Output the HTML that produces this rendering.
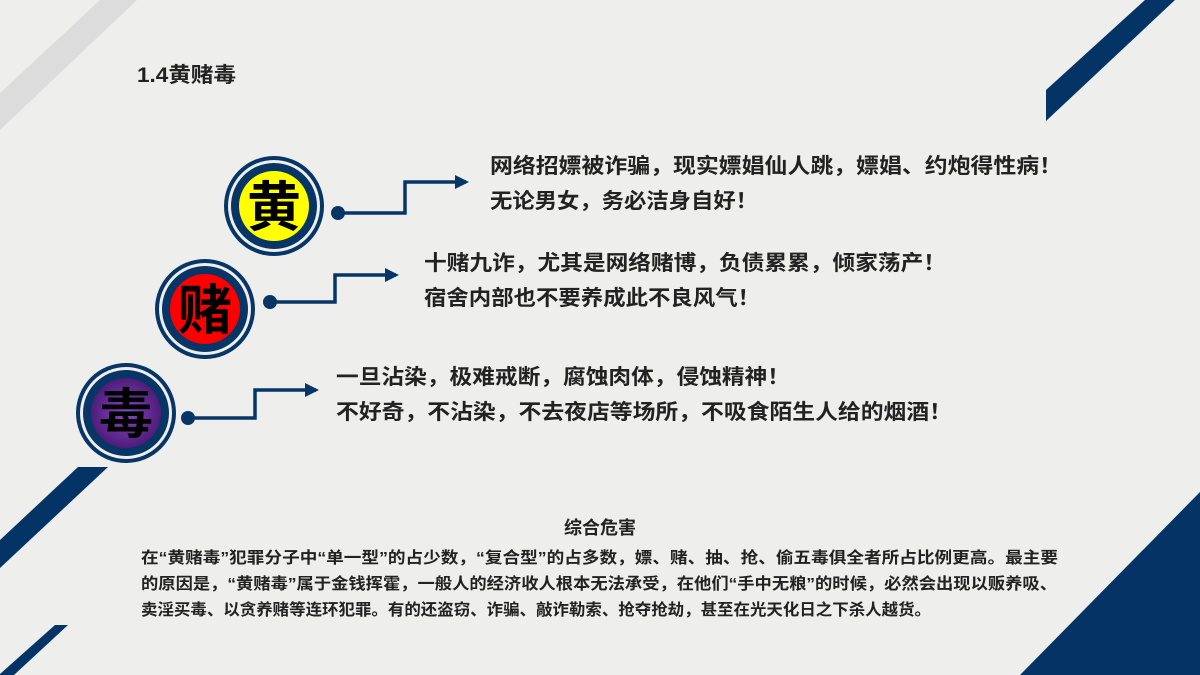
<!DOCTYPE html>
<html><head><meta charset="utf-8"><style>
html,body{margin:0;padding:0;background:#eeeeec;}
svg{display:block;}
text{font-family:"Liberation Sans","Noto Sans CJK SC",sans-serif;font-weight:bold;fill:#222;}
</style></head><body>
<svg width="1200" height="675" viewBox="0 0 1200 675" xmlns="http://www.w3.org/2000/svg">
<defs>
<radialGradient id="pg" cx="0.5" cy="0.5" r="0.5">
<stop offset="0" stop-color="#8e44c8"/><stop offset="1" stop-color="#4d1d78"/>
</radialGradient>
<marker id="ar" markerWidth="14" markerHeight="14" refX="11" refY="7" orient="auto" markerUnits="userSpaceOnUse">
<path d="M0,0 L14,7 L0,14 Z" fill="#063566"/>
</marker>
</defs>
<rect width="1200" height="675" fill="#eeeeec"/>
<polygon points="100,0 137,0 0,130 0,93" fill="#dcdcdc"/>
<polygon points="1145,0 1175,0 1046,121 1046,90" fill="#043466"/>
<polygon points="1200,492 1200,675 1020,675" fill="#043466"/>
<polygon points="78,467 108,467 0,568 0,540" fill="#043466"/>
<polygon points="55,625 68,625 14,675 0,675 0,674" fill="#043466"/>
<text x="137" y="82" font-size="21" textLength="99" lengthAdjust="spacingAndGlyphs">1.4黄赌毒</text>

<circle cx="274" cy="206" r="50" fill="#063566"/>
<circle cx="274" cy="206" r="46" fill="#eeeeec"/>
<circle cx="274" cy="206" r="43" fill="#063566"/>
<circle cx="274" cy="206" r="35" fill="#ffff00"/>
<text x="274" y="226" font-size="54" text-anchor="middle" style="fill:#000">黄</text>
<circle cx="338" cy="213" r="7" fill="#063566"/>
<polyline points="338,213 405,213 405,182 466,182" fill="none" stroke="#063566" stroke-width="3.5" marker-end="url(#ar)"/>

<circle cx="205" cy="309" r="50" fill="#063566"/>
<circle cx="205" cy="309" r="46" fill="#eeeeec"/>
<circle cx="205" cy="309" r="43" fill="#063566"/>
<circle cx="205" cy="309" r="35" fill="#ff0000"/>
<text x="205" y="329" font-size="54" text-anchor="middle" style="fill:#000">赌</text>
<circle cx="270" cy="302" r="7" fill="#063566"/>
<polyline points="270,302 335,302 335,275 396,275" fill="none" stroke="#063566" stroke-width="3.5" marker-end="url(#ar)"/>

<circle cx="126" cy="413" r="50" fill="#063566"/>
<circle cx="126" cy="413" r="46" fill="#eeeeec"/>
<circle cx="126" cy="413" r="43" fill="#063566"/>
<circle cx="126" cy="413" r="35" fill="url(#pg)"/>
<text x="126" y="433" font-size="54" text-anchor="middle" style="fill:#000">毒</text>
<circle cx="188" cy="418" r="7" fill="#063566"/>
<polyline points="188,418 255,418 255,390 316,390" fill="none" stroke="#063566" stroke-width="3.5" marker-end="url(#ar)"/>

<text x="490" y="173" font-size="21" textLength="572" lengthAdjust="spacingAndGlyphs">网络招嫖被诈骗，现实嫖娼仙人跳，嫖娼、约炮得性病！</text>
<text x="490" y="208" font-size="21" textLength="268" lengthAdjust="spacingAndGlyphs">无论男女，务必洁身自好！</text>
<text x="424" y="270" font-size="21" textLength="522" lengthAdjust="spacingAndGlyphs">十赌九诈，尤其是网络赌博，负债累累，倾家荡产！</text>
<text x="424" y="305" font-size="21" textLength="336" lengthAdjust="spacingAndGlyphs">宿舍内部也不要养成此不良风气！</text>
<text x="336" y="384" font-size="21" textLength="454" lengthAdjust="spacingAndGlyphs">一旦沾染，极难戒断，腐蚀肉体，侵蚀精神！</text>
<text x="336" y="419" font-size="21" textLength="616" lengthAdjust="spacingAndGlyphs">不好奇，不沾染，不去夜店等场所，不吸食陌生人给的烟酒！</text>

<text x="600" y="534" font-size="18" text-anchor="middle">综合危害</text>
<text x="141" y="563" font-size="16" textLength="917" lengthAdjust="spacingAndGlyphs">在“黄赌毒”犯罪分子中“单一型”的占少数，“复合型”的占多数，嫖、赌、抽、抢、偷五毒俱全者所占比例更高。最主要</text>
<text x="141" y="589" font-size="16" textLength="916" lengthAdjust="spacingAndGlyphs">的原因是，“黄赌毒”属于金钱挥霍，一般人的经济收人根本无法承受，在他们“手中无粮”的时候，必然会出现以贩养吸、</text>
<text x="141" y="615" font-size="16" textLength="790" lengthAdjust="spacingAndGlyphs">卖淫买毒、以贪养赌等连环犯罪。有的还盗窃、诈骗、敲诈勒索、抢夺抢劫，甚至在光天化日之下杀人越货。</text>
</svg>
</body></html>
